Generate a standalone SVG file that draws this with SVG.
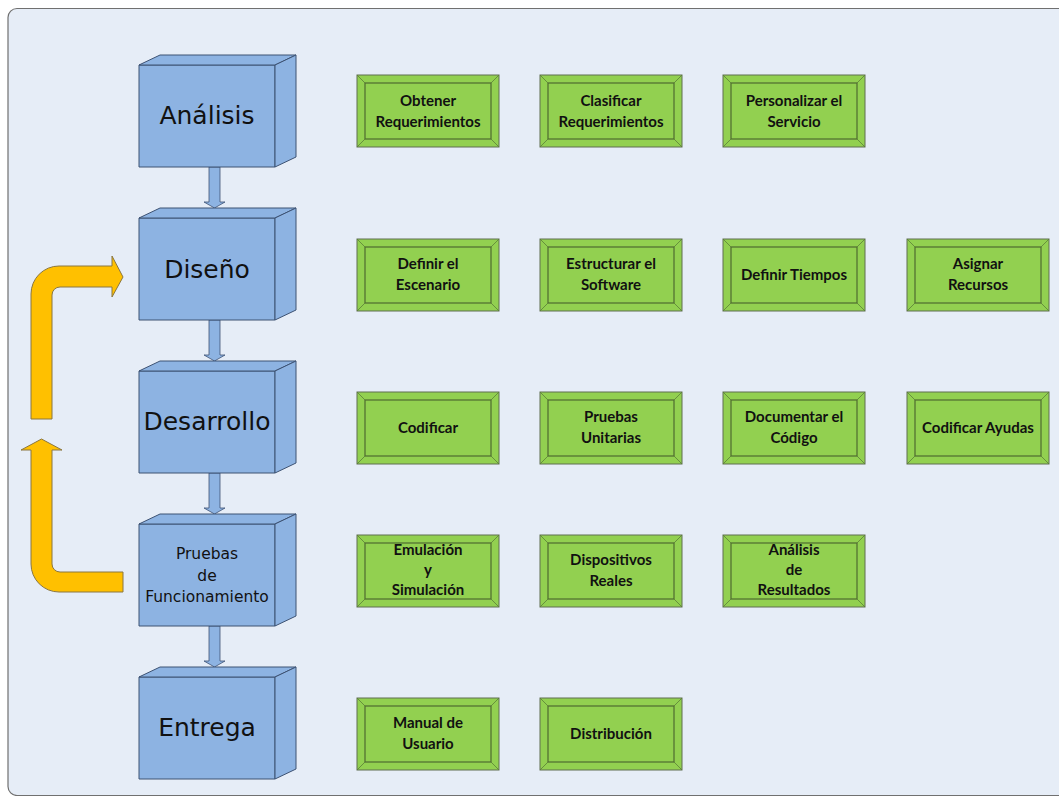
<svg xmlns="http://www.w3.org/2000/svg" xmlns:xlink="http://www.w3.org/1999/xlink" width="1059" height="796" viewBox="0 0 1059 796">
  <style>
    .panel { fill: #e6edf7; stroke: #707070; stroke-width: 1.2; }
    .cube { fill: #8db3e2; stroke: #3d5273; stroke-width: 1; stroke-linejoin: round; }
    .phase { font-family: "DejaVu Sans", "Noto Sans", sans-serif; fill: #111; text-anchor: middle; }
    .task-outer { fill: #92d050; stroke: #5f6f50; stroke-width: 1; }
    .task-inner { fill: #92d050; stroke: #4f6b30; stroke-width: 1.2; }
    .bevel { stroke: #5a7d38; stroke-width: 0.8; }
    .task { font-family: Lato, "Liberation Sans", sans-serif; font-weight: bold; font-size: 15px; fill: #111; text-anchor: middle; }
    .down { fill: #8db3e2; stroke: #3d5273; stroke-width: 0.8; }
    .loop { fill: #ffc000; stroke: #8a7640; stroke-width: 1; stroke-linejoin: round; }
  </style>
  <defs>
    <!-- 3D block: front face 136x102 at origin, depth offset (21,-10) -->
    <g id="cube">
      <rect class="cube" x="0" y="0" width="136" height="102"/>
      <polygon class="cube" points="0,0 21,-10 157,-10 136,0"/>
      <polygon class="cube" points="136,0 157,-10 157,92 136,102"/>
    </g>
    <!-- bevelled task box 142x72 -->
    <g id="task">
      <rect class="task-outer" x="0" y="0" width="142" height="72"/>
      <rect class="task-inner" x="8" y="8" width="126" height="56"/>
      <path class="bevel" d="M0,0 L8,8 M142,0 L134,8 M0,72 L8,64 M142,72 L134,64"/>
    </g>
  </defs>

  <rect class="panel" x="8" y="8.5" width="1070" height="787" rx="9"/>

  <!-- connectors -->
  <g id="connectors">
    <polygon class="down" points="209,167 220,167 220,202 225,202 214.5,208 204,202 209,202"/>
    <polygon class="down" points="209,320 220,320 220,355 225,355 214.5,361 204,355 209,355"/>
    <polygon class="down" points="209,473 220,473 220,508 225,508 214.5,514 204,508 209,508"/>
    <polygon class="down" points="209,626 220,626 220,661 225,661 214.5,667 204,661 209,661"/>
    <path class="loop" d="M31,419 L31,294 A28,28 0 0 1 59,266 L112,266 L112,256 L123,277 L112,297 L112,287 L60,287 A8,8 0 0 0 52,295 L52,419 Z"/>
    <path class="loop" d="M21,450 L41.5,439 L62,450 L52,450 L52,564 A8,8 0 0 0 60,572 L123,572 L123,592 L59,592 A28,28 0 0 1 31,564 L31,450 Z"/>
  </g>

  <!-- phases -->
  <g id="phase-analisis">
    <use xlink:href="#cube" transform="translate(139,65)"/>
    <text class="phase" x="207" y="124" font-size="25">Análisis</text>
  </g>
  <g id="phase-diseno">
    <use xlink:href="#cube" transform="translate(139,218)"/>
    <text class="phase" x="207" y="278" font-size="25">Diseño</text>
  </g>
  <g id="phase-desarrollo">
    <use xlink:href="#cube" transform="translate(139,371)"/>
    <text class="phase" x="207" y="430" font-size="25">Desarrollo</text>
  </g>
  <g id="phase-pruebas">
    <use xlink:href="#cube" transform="translate(139,524)"/>
    <text class="phase" x="207" font-size="15.5"><tspan x="207" y="559">Pruebas</tspan><tspan x="207" y="581">de</tspan><tspan x="207" y="602">Funcionamiento</tspan></text>
  </g>
  <g id="phase-entrega">
    <use xlink:href="#cube" transform="translate(139,677)"/>
    <text class="phase" x="207" y="736" font-size="25">Entrega</text>
  </g>

  <!-- tasks: row 1 -->
  <g id="t-obtener">
    <use xlink:href="#task" transform="translate(357,75)"/>
    <text class="task"><tspan x="428" y="106">Obtener</tspan><tspan x="428" y="127">Requerimientos</tspan></text>
  </g>
  <g id="t-clasificar">
    <use xlink:href="#task" transform="translate(540,75)"/>
    <text class="task"><tspan x="611" y="106">Clasificar</tspan><tspan x="611" y="127">Requerimientos</tspan></text>
  </g>
  <g id="t-personalizar">
    <use xlink:href="#task" transform="translate(723,75)"/>
    <text class="task"><tspan x="794" y="106">Personalizar el</tspan><tspan x="794" y="127">Servicio</tspan></text>
  </g>

  <!-- row 2 -->
  <g id="t-escenario">
    <use xlink:href="#task" transform="translate(357,239)"/>
    <text class="task"><tspan x="428" y="269">Definir el</tspan><tspan x="428" y="290">Escenario</tspan></text>
  </g>
  <g id="t-estructurar">
    <use xlink:href="#task" transform="translate(540,239)"/>
    <text class="task"><tspan x="611" y="269">Estructurar el</tspan><tspan x="611" y="290">Software</tspan></text>
  </g>
  <g id="t-tiempos">
    <use xlink:href="#task" transform="translate(723,239)"/>
    <text class="task" x="794" y="280">Definir Tiempos</text>
  </g>
  <g id="t-recursos">
    <use xlink:href="#task" transform="translate(907,239)"/>
    <text class="task"><tspan x="978" y="269">Asignar</tspan><tspan x="978" y="290">Recursos</tspan></text>
  </g>

  <!-- row 3 -->
  <g id="t-codificar">
    <use xlink:href="#task" transform="translate(357,392)"/>
    <text class="task" x="428" y="433">Codificar</text>
  </g>
  <g id="t-unitarias">
    <use xlink:href="#task" transform="translate(540,392)"/>
    <text class="task"><tspan x="611" y="422">Pruebas</tspan><tspan x="611" y="443">Unitarias</tspan></text>
  </g>
  <g id="t-documentar">
    <use xlink:href="#task" transform="translate(723,392)"/>
    <text class="task"><tspan x="794" y="422">Documentar el</tspan><tspan x="794" y="443">Código</tspan></text>
  </g>
  <g id="t-ayudas">
    <use xlink:href="#task" transform="translate(907,392)"/>
    <text class="task" x="978" y="433">Codificar Ayudas</text>
  </g>

  <!-- row 4 -->
  <g id="t-emulacion">
    <use xlink:href="#task" transform="translate(357,535)"/>
    <text class="task"><tspan x="428" y="555">Emulación</tspan><tspan x="428" y="575">y</tspan><tspan x="428" y="595">Simulación</tspan></text>
  </g>
  <g id="t-dispositivos">
    <use xlink:href="#task" transform="translate(540,535)"/>
    <text class="task"><tspan x="611" y="565">Dispositivos</tspan><tspan x="611" y="586">Reales</tspan></text>
  </g>
  <g id="t-resultados">
    <use xlink:href="#task" transform="translate(723,535)"/>
    <text class="task"><tspan x="794" y="555">Análisis</tspan><tspan x="794" y="575">de</tspan><tspan x="794" y="595">Resultados</tspan></text>
  </g>

  <!-- row 5 -->
  <g id="t-manual">
    <use xlink:href="#task" transform="translate(357,698)"/>
    <text class="task"><tspan x="428" y="728">Manual de</tspan><tspan x="428" y="749">Usuario</tspan></text>
  </g>
  <g id="t-distribucion">
    <use xlink:href="#task" transform="translate(540,698)"/>
    <text class="task" x="611" y="739">Distribución</text>
  </g>
</svg>
